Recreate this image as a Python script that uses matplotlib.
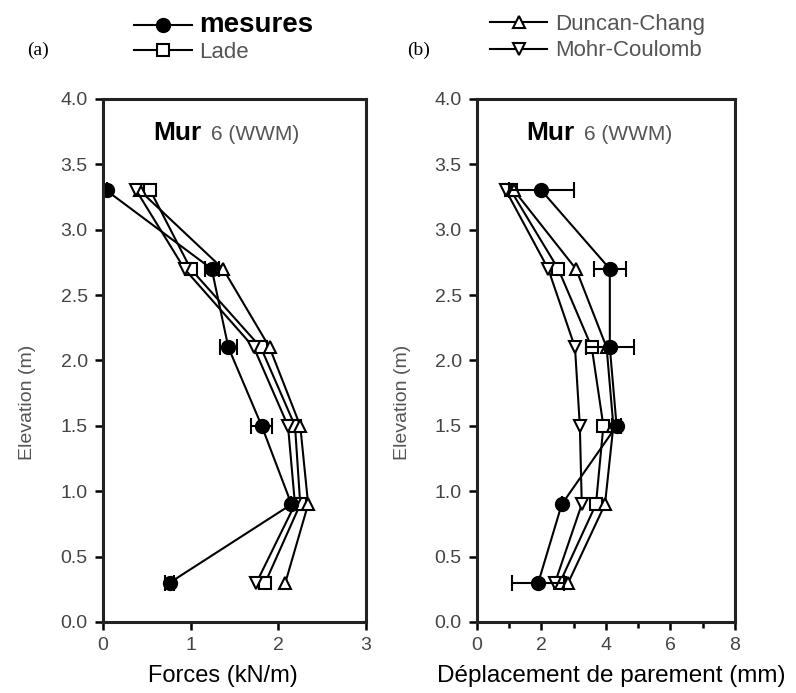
import matplotlib.pyplot as plt

plt.rcParams['font.family'] = ['Liberation Sans', 'DejaVu Sans']

# elevations (m)
elev = [3.3, 2.7, 2.1, 1.5, 0.9, 0.3]

# (a) forces (kN/m)
f_mes = [0.04, 1.24, 1.43, 1.81, 2.15, 0.76]
f_mes_err = [0.0, 0.08, 0.1, 0.12, 0.0, 0.05]
f_lade = [0.54, 1.0, 1.8, 2.19, 2.25, 1.85]
f_dc = [0.42, 1.37, 1.9, 2.25, 2.34, 2.08]
f_mc = [0.38, 0.93, 1.72, 2.11, 2.19, 1.75]

# (b) deplacement de parement (mm)
d_mes = [2.0, 4.12, 4.12, 4.33, 2.63, 1.9]
d_mes_err = [1.0, 0.5, 0.75, 0.15, 0.0, 0.8]
d_lade = [1.05, 2.52, 3.56, 3.92, 3.69, 2.57]
d_dc = [1.15, 3.07, 4.02, 4.23, 3.97, 2.83]
d_mc = [0.9, 2.21, 3.04, 3.19, 3.25, 2.42]

fig = plt.figure(figsize=(7.96, 6.93), dpi=100)
ax1 = fig.add_axes([0.1294, 0.1025, 0.3304, 0.7547])
ax2 = fig.add_axes([0.5992, 0.1025, 0.3241, 0.7547])

gray = '#555555'
lw = 1.5

def draw(ax, mes, err, lade, dc, mc):
    h_l, = ax.plot(lade, elev, '-s', color='k', mfc='white', ms=8, lw=lw, mew=1.5)
    h_d, = ax.plot(dc, elev, '-^', color='k', mfc='white', ms=9, lw=lw, mew=1.5)
    h_m, = ax.plot(mc, elev, '-v', color='k', mfc='white', ms=9, lw=lw, mew=1.5)
    ax.errorbar(mes, elev, xerr=err, fmt='none', ecolor='k', elinewidth=lw, capsize=6, capthick=1.5)
    h_s, = ax.plot(mes, elev, '-o', color='k', ms=10, lw=lw)
    ax.set_ylim(0, 4)
    ax.set_yticks([0, 0.5, 1, 1.5, 2, 2.5, 3, 3.5, 4])
    ax.set_yticklabels(['%.1f' % v for v in [0, 0.5, 1, 1.5, 2, 2.5, 3, 3.5, 4]])
    ax.set_ylabel('Elevation (m)', color=gray, fontsize=14)
    ax.yaxis.set_label_coords(-0.255, 0.42)
    for s in ax.spines.values():
        s.set_linewidth(2.2)
        s.set_color('#222222')
    ax.tick_params(direction='out', length=6, width=1.8, pad=5, labelsize=14, labelcolor='#444444')
    ax.tick_params(which='minor', direction='out', length=4, width=1.8)
    mur = ax.text(0.19, 0.935, 'Mur', transform=ax.transAxes, fontsize=19, fontweight='bold', va='center')
    ax.annotate('6 (WWM)', xy=(1, 0.45), xycoords=mur, xytext=(7, 0), textcoords='offset points',
                fontsize=15, color=gray, va='center')
    return h_s, h_l, h_d, h_m

h_s, h_l, h_d, h_m = draw(ax1, f_mes, f_mes_err, f_lade, f_dc, f_mc)
draw(ax2, d_mes, d_mes_err, d_lade, d_dc, d_mc)

ax1.set_xlim(0, 3)
ax1.set_xticks([0, 1, 2, 3])
ax1.set_xlabel('Forces (kN/m)', fontsize=17)
ax1.xaxis.set_label_coords(0.455, -0.082)

ax2.set_xlim(0, 8)
ax2.set_xticks([0, 2, 4, 6, 8])
ax2.set_xticks([1, 3, 5, 7], minor=True)
ax2.set_xlabel('Déplacement de parement (mm)', fontsize=17.5)
ax2.xaxis.set_label_coords(0.52, -0.082)

leg1 = fig.legend([h_s, h_l], ['mesures', 'Lade'], loc='upper left', bbox_to_anchor=(0.143, 1.011),
                  frameon=False, handlelength=2.6, handletextpad=0.35, fontsize=16, labelspacing=0.15)
t = leg1.get_texts()
t[0].set_fontweight('bold')
t[0].set_fontsize(20)
t[1].set_color(gray)
leg2 = fig.legend([h_d, h_m], ['Duncan-Chang', 'Mohr-Coulomb'], loc='upper left', bbox_to_anchor=(0.590, 1.009),
                  frameon=False, handlelength=2.6, handletextpad=0.35, fontsize=16, labelspacing=0.25)
for tt in leg2.get_texts():
    tt.set_color(gray)

fig.text(0.034, 0.928, '(a)', fontsize=14, family='Liberation Serif', va='center')
fig.text(0.512, 0.928, '(b)', fontsize=14, family='Liberation Serif', va='center')

fig.savefig('out.png', dpi=100)
